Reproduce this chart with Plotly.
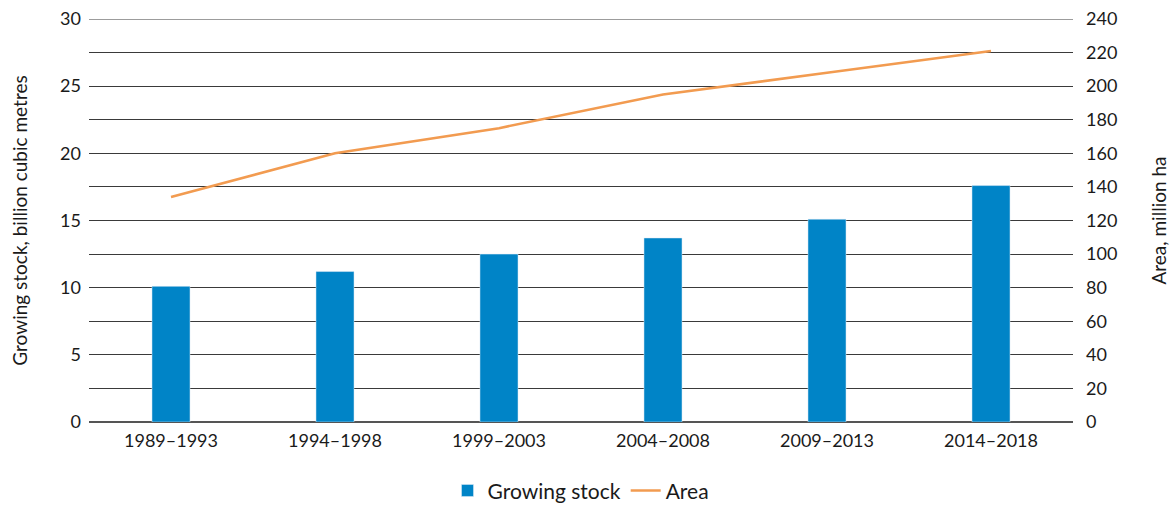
import plotly.graph_objects as go

periods = ["1989–1993", "1994–1998", "1999–2003", "2004–2008", "2009–2013", "2014–2018"]
growing_stock = [10.1, 11.2, 12.5, 13.7, 15.1, 17.6]
area = [134, 160, 175, 195, 208, 221]

font_family = "Lato, Open Sans, sans-serif"
grid_color = "#3a3a3a"

fig = go.Figure()

fig.add_trace(
    go.Bar(
        x=periods,
        y=growing_stock,
        name="Growing stock",
        marker_color="#0084C7",
        yaxis="y"
    )
)

fig.add_trace(
    go.Scatter(
        x=periods,
        y=area,
        name="Area",
        mode="lines",
        line=dict(color="#F29B50", width=2.5),
        yaxis="y2"
    )
)

# top gridline (plotly drops the grid line sitting on the plot edge)
fig.add_shape(
    type="line",
    xref="paper",
    yref="y",
    x0=0,
    x1=1,
    y0=30,
    y1=30,
    line=dict(color=grid_color, width=1),
    layer="below"
)

fig.update_layout(
    width=1170,
    height=506,
    margin=dict(l=89, r=97, t=19, b=84),
    paper_bgcolor="white",
    plot_bgcolor="white",
    font=dict(family=font_family, size=18, color="#1a1a1a"),
    bargap=0.768,
    showlegend=True,
    legend=dict(
        orientation="h",
        x=0.5,
        xanchor="center",
        yref="container",
        y=0.03,
        yanchor="middle",
        font=dict(size=21),
        itemwidth=30
    ),
    xaxis=dict(
        automargin=False,
        showgrid=False,
        showline=False,
        ticks="",
        ticklabelstandoff=6,
        tickfont=dict(size=18)
    ),
    yaxis=dict(
        automargin=False,
        range=[0, 30],
        dtick=5,
        showgrid=True,
        gridcolor=grid_color,
        gridwidth=1,
        minor=dict(dtick=2.5, showgrid=True, gridcolor=grid_color, gridwidth=1),
        zeroline=True,
        zerolinecolor="#555555",
        zerolinewidth=1.5,
        title=dict(text="Growing stock, billion cubic metres", font=dict(size=19), standoff=27),
        ticks="",
        ticklabelstandoff=7,
        tickfont=dict(size=18)
    ),
    yaxis2=dict(
        automargin=False,
        range=[0, 240],
        dtick=20,
        overlaying="y",
        side="right",
        showgrid=False,
        zeroline=False,
        title=dict(text="Area, million ha", font=dict(size=19), standoff=38),
        ticks="",
        ticklabelstandoff=12,
        tickfont=dict(size=18)
    )
)

fig.write_html(
    "out.html",
    config={"displayModeBar": False},
    post_script="document.body.style.margin='0';"
)
